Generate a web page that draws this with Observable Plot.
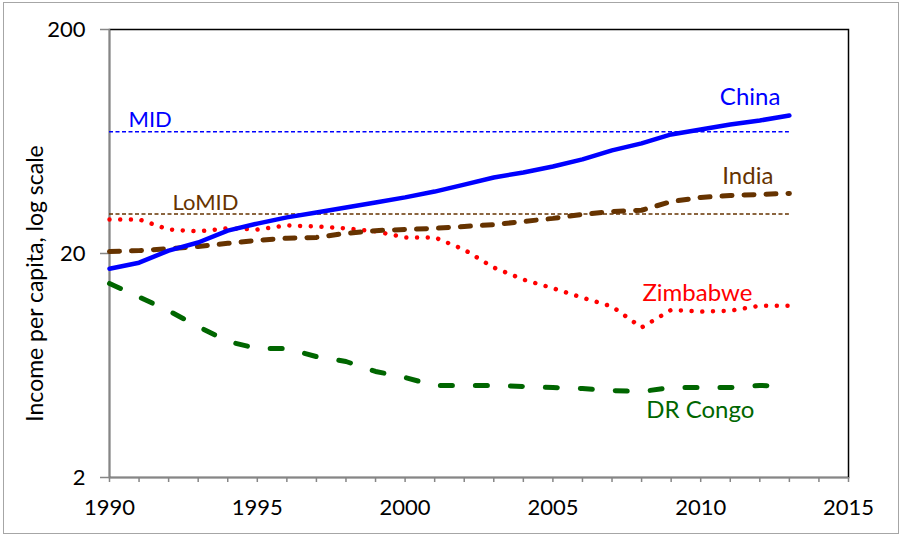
<!DOCTYPE html>
<html>
<head>
<meta charset="utf-8">
<script src="https://cdn.jsdelivr.net/npm/d3@7"></script>
<script src="https://cdn.jsdelivr.net/npm/@observablehq/plot@0.6"></script>
<style>
  html, body { margin: 0; padding: 0; background: white; }
  #wrap { position: relative; width: 901px; height: 536px; }
  #border { position: absolute; left: 3px; top: 2px; width: 894px; height: 530px; border: 1.5px solid #a6a6a6; pointer-events: none; }
</style>
</head>
<body>
<div id="wrap"><div id="chart"></div><div id="border"></div></div>
<script>
const years = [1990,1991,1992,1993,1994,1995,1996,1997,1998,1999,2000,2001,2002,2003,2004,2005,2006,2007,2008,2009,2010,2011,2012,2013];
const china    = [17.1,18.2,20.6,22.4,25.3,27.2,29.0,30.5,32.1,33.8,35.6,37.8,40.6,43.7,46.0,48.9,52.6,57.7,62.0,68.0,71.6,75.3,78.5,82.6];
const india    = [20.4,20.6,21.0,21.5,22.2,22.9,23.4,23.6,24.6,25.3,25.6,25.9,26.4,26.9,27.8,28.7,29.9,30.8,31.2,34.1,35.6,36.3,36.7,37.1];
const zimbabwe = [28.4,28.4,25.6,25.1,25.9,25.6,26.7,26.4,25.9,25.1,23.6,23.6,20.8,17.3,15.3,14.0,12.7,11.6,9.35,11.2,11.0,11.1,11.7,11.7];
const drCongo  = [14.7,12.8,11.1,9.44,8.10,7.53,7.53,6.93,6.59,5.95,5.59,5.15,5.15,5.15,5.10,5.04,4.99,4.89,4.84,5.04,5.04,5.04,5.15,5.10];
const thresholds = [{name: "MID", value: 70}, {name: "LoMID", value: 30}];
const xTicks = [1990,1991,1992,1993,1994,1995,1996,1997,1998,1999,2000,2001,2002,2003,2004,2005,2006,2007,2008,2009,2010,2011,2012,2013,2014,2015];
const yTicks = [2, 20, 200];
const yLabel = "Income per capita, log scale";

const rows = (vals) => years.map((y, i) => ({year: y, value: vals[i]}));
const last = (vals) => [{year: years[years.length - 1], value: vals[vals.length - 1]}];
const lastYear = years[years.length - 1];
const font = "Lato, 'Open Sans', sans-serif";

const chart = Plot.plot({
  width: 901,
  height: 536,
  marginLeft: 109,
  marginRight: 53,
  marginTop: 29,
  marginBottom: 59,
  style: {fontFamily: font, background: "white", overflow: "visible"},
  x: {domain: [1990, 2015]},
  y: {type: "log", domain: [2, 200]},
  marks: [
    Plot.frame({stroke: "black", strokeWidth: 1.5}),
    Plot.ruleX([1990], {stroke: "#868686", strokeWidth: 1.5}),
    Plot.ruleY([2], {stroke: "#868686", strokeWidth: 1.5}),
    Plot.axisX(xTicks, {tickSize: 5, tickPadding: 17, stroke: "#868686", strokeWidth: 1.5, fill: "black", fontSize: 22, label: null,
      tickFormat: d => d % 5 === 0 ? String(d) : ""}),
    Plot.axisY(yTicks, {tickSize: 9, tickPadding: 15, stroke: "#868686", strokeWidth: 1.5, fill: "black", fontSize: 22, label: null,
      tickFormat: d => String(d)}),
    Plot.text([yLabel], {frameAnchor: "left", textAnchor: "middle", rotate: -90, dx: -74, dy: 30, fontSize: 23, fill: "black"}),
    // threshold lines
    Plot.ruleY(thresholds.slice(0, 1), {y: "value", x1: 1990, x2: lastYear, stroke: "#0000ff", strokeWidth: 1.5, strokeDasharray: "4,2.5"}),
    Plot.ruleY(thresholds.slice(1, 2), {y: "value", x1: 1990, x2: lastYear, stroke: "#663300", strokeWidth: 1.5, strokeDasharray: "4,2.5"}),
    Plot.text(thresholds.slice(0, 1), {x: () => 1990, y: "value", text: "name", fill: "#0000ff", fontSize: 22, textAnchor: "start", dx: 19, dy: -12}),
    Plot.text(thresholds.slice(1, 2), {x: () => 1990, y: "value", text: "name", fill: "#663300", fontSize: 22, textAnchor: "start", dx: 63, dy: -11}),
    // series
    Plot.line(rows(drCongo), {x: "year", y: "value", stroke: "#006600", strokeWidth: 5, strokeDasharray: "12,23", strokeLinecap: "round"}),
    Plot.line(rows(zimbabwe), {x: "year", y: "value", stroke: "#ff0000", strokeWidth: 4.5, strokeDasharray: "0.01,10.7", strokeLinecap: "round"}),
    Plot.line(rows(india), {x: "year", y: "value", stroke: "#663300", strokeWidth: 5, strokeDasharray: "10,12", strokeLinecap: "round"}),
    Plot.line(rows(china), {x: "year", y: "value", stroke: "#0000ff", strokeWidth: 4.5, strokeLinecap: "round"}),
    // labels
    Plot.text(last(china), {x: "year", y: "value", text: () => "China", fill: "#0000ff", fontSize: 24, textAnchor: "end", dx: -9, dy: -18}),
    Plot.text(last(india), {x: "year", y: "value", text: () => "India", fill: "#663300", fontSize: 24, textAnchor: "end", dx: -16, dy: -17}),
    Plot.text(last(zimbabwe), {x: "year", y: "value", text: () => "Zimbabwe", fill: "#ff0000", fontSize: 24, textAnchor: "end", dx: -37, dy: -12}),
    Plot.text(last(drCongo), {x: "year", y: "value", text: () => "DR Congo", fill: "#006600", fontSize: 24, textAnchor: "end", dx: -35, dy: 24})
  ]
});
document.getElementById("chart").appendChild(chart);
</script>
</body>
</html>
